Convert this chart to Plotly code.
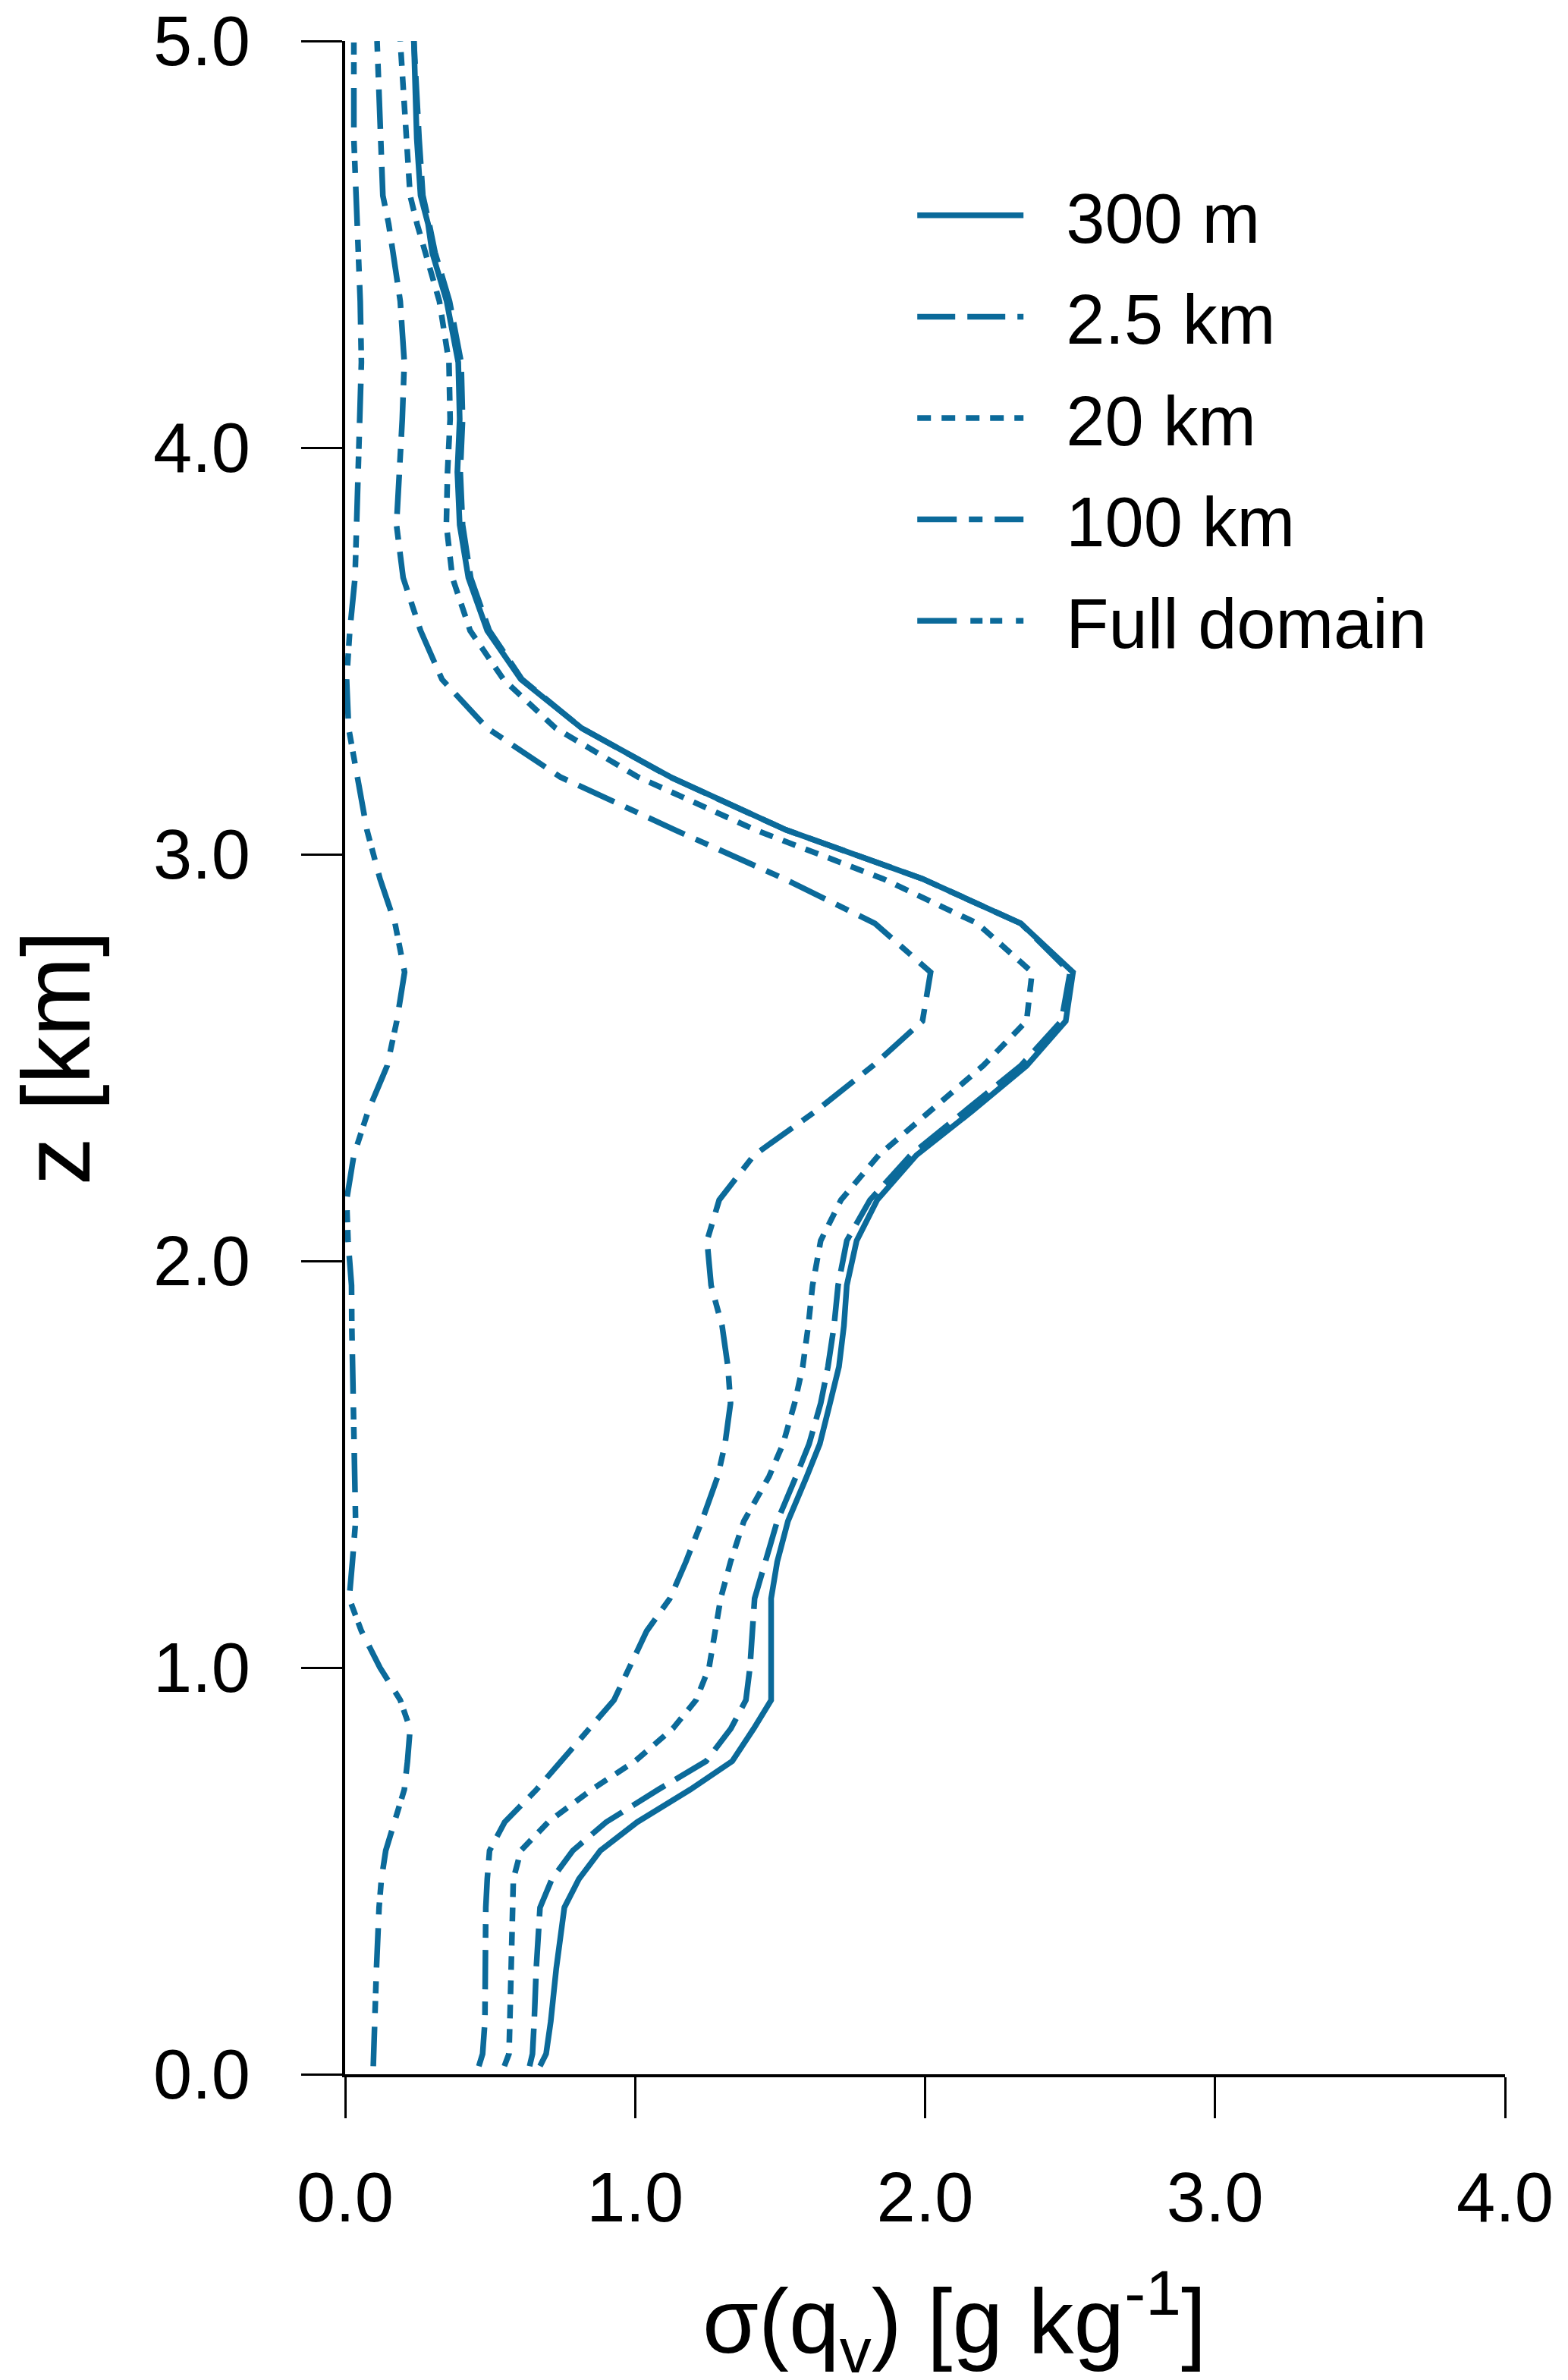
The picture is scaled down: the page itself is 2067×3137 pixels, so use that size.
import plotly.graph_objects as go

# model levels [km]
z = [0.02, 0.05, 0.13, 0.26, 0.41, 0.48, 0.55, 0.62, 0.70, 0.77, 0.85, 0.92, 1.00,
     1.09, 1.17, 1.26, 1.36, 1.47, 1.55, 1.65, 1.74, 1.84, 1.94, 2.05, 2.15, 2.26,
     2.37, 2.48, 2.59, 2.71, 2.83, 2.94, 3.06, 3.19, 3.31, 3.43, 3.55, 3.68, 3.81,
     3.94, 4.07, 4.21, 4.36, 4.48, 4.55, 4.62, 4.76, 4.88, 5.0]

# sigma(qv) [g/kg] for each averaging scale
sd_300m = [0.672, 0.693, 0.709, 0.728, 0.756, 0.806, 0.88, 1.007, 1.19, 1.335, 1.409, 1.469, 1.469,
           1.469, 1.469, 1.49, 1.527, 1.592, 1.637, 1.672, 1.703, 1.72, 1.73, 1.764, 1.835, 1.97,
           2.165, 2.35, 2.485, 2.51, 2.33, 1.99, 1.52, 1.122, 0.816, 0.606, 0.49, 0.425, 0.395,
           0.387, 0.395, 0.39, 0.35, 0.30, 0.286, 0.26, 0.247, 0.242, 0.237]
sd_2p5km = [0.636, 0.646, 0.652, 0.659, 0.672, 0.713, 0.785, 0.90, 1.08, 1.245, 1.33, 1.382, 1.396,
            1.404, 1.412, 1.449, 1.49, 1.555, 1.60, 1.64, 1.665, 1.686, 1.70, 1.73, 1.81, 1.95,
            2.14, 2.33, 2.47, 2.50, 2.33, 1.99, 1.52, 1.12, 0.816, 0.61, 0.497, 0.433, 0.405,
            0.397, 0.405, 0.40, 0.36, 0.31, 0.29, 0.268, 0.255, 0.245, 0.237]
sd_20km = [0.549, 0.565, 0.568, 0.572, 0.576, 0.58, 0.606, 0.70, 0.85, 1.00, 1.13, 1.21, 1.255,
           1.275, 1.295, 1.329, 1.375, 1.462, 1.51, 1.55, 1.578, 1.597, 1.612, 1.64, 1.71, 1.84,
           2.018, 2.20, 2.35, 2.369, 2.18, 1.854, 1.414, 1.01, 0.726, 0.546, 0.431, 0.37, 0.349,
           0.353, 0.362, 0.358, 0.325, 0.275, 0.248, 0.224, 0.211, 0.20, 0.19]
sd_100km = [0.461, 0.474, 0.482, 0.483, 0.485, 0.49, 0.498, 0.55, 0.66, 0.745, 0.84, 0.927, 0.98,
            1.04, 1.12, 1.175, 1.23, 1.285, 1.31, 1.329, 1.32, 1.30, 1.262, 1.248, 1.29, 1.41,
            1.626, 1.82, 1.991, 2.019, 1.827, 1.513, 1.137, 0.742, 0.49, 0.334, 0.26, 0.20, 0.177,
            0.188, 0.197, 0.204, 0.19, 0.165, 0.15, 0.13, 0.124, 0.115, 0.11]
sd_full = [0.097, 0.098, 0.10, 0.108, 0.117, 0.125, 0.14, 0.17, 0.204, 0.215, 0.224, 0.19, 0.12,
           0.056, 0.014, 0.025, 0.036, 0.033, 0.03, 0.027, 0.025, 0.023, 0.022, 0.01, 0.005, 0.03,
           0.08, 0.145, 0.178, 0.205, 0.172, 0.12, 0.075, 0.04, 0.012, 0.005, 0.016, 0.034, 0.04,
           0.043, 0.05, 0.056, 0.052, 0.045, 0.04, 0.035, 0.03, 0.03, 0.03]

names = ['300 m', '2.5 km', '20 km', '100 km', 'Full domain']
series = [sd_300m, sd_2p5km, sd_20km, sd_100km, sd_full]
dashes = ['solid', '50px,16px', '18px,14px', '52px,16px,18px,16px',
          '52px,18px,16px,10px,16px,18px']

color = '#0b6a9a'
font = 'Liberation Sans, Arial, Helvetica, sans-serif'
pad = '\u00a0\u00a0'  # gap between legend sample and label

fig = go.Figure()
for i, (name, xs, dash) in enumerate(zip(names, series, dashes)):
    fig.add_trace(go.Scatter(
        x=xs, y=z, mode='lines', name=pad + name, legendgroup=str(i),
        line=dict(color=color, width=7.5, dash=dash)
    ))

axis_common = dict(
    showgrid=False, zeroline=False, showline=True, linecolor='black', linewidth=3.5,
    ticks='outside', ticklen=54, tickwidth=2.5, tickcolor='black',
    tickfont=dict(family=font, size=92, color='black'), tickformat='.1f', dtick=1,
    ticklabeloverflow='allow', automargin=False,
)
fig.update_xaxes(range=[0, 4], ticklabelstandoff=26, **axis_common)
fig.update_yaxes(range=[0, 5], ticklabelstandoff=49, **axis_common)

# page body adds an 8px offset, so the figure is shrunk by that amount
fig.update_layout(
    width=2059, height=3129, autosize=False,
    margin=dict(l=447, r=83, t=46, b=403),
    plot_bgcolor='white', paper_bgcolor='white',
    legend=dict(x=0.49, y=0.939, xanchor='left', yanchor='top',
                font=dict(family=font, size=92, color='black'),
                itemwidth=140, tracegroupgap=11, bgcolor='rgba(0,0,0,0)'),
    annotations=[
        dict(text='σ(q<sub>v</sub>) [g kg<sup>-1</sup>]', xref='paper', yref='paper',
             x=0.525, y=-0.1217, xanchor='center', yanchor='middle', showarrow=False,
             font=dict(family=font, size=120, color='black')),
        dict(text='z [km]', xref='paper', yref='paper', x=-0.249, y=0.5, textangle=-90,
             xanchor='center', yanchor='middle', showarrow=False,
             font=dict(family=font, size=126, color='black')),
    ],
)

fig.write_html("out.html")
